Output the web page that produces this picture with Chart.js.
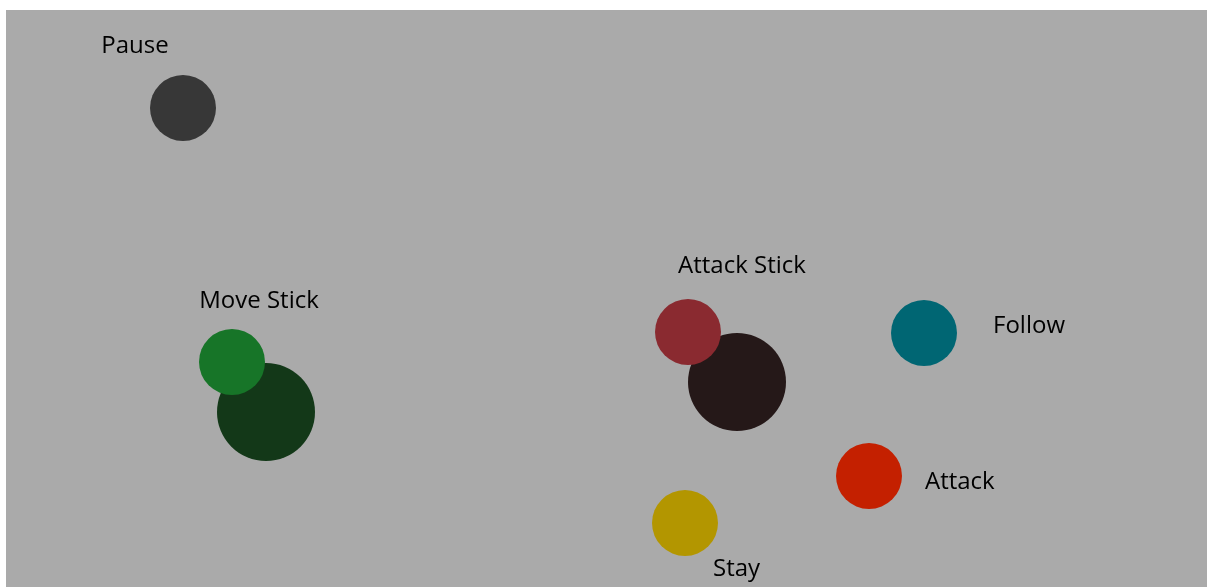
<!DOCTYPE html>
<html>
<head>
<meta charset="utf-8">
<script src="https://cdn.jsdelivr.net/npm/chart.js@4"></script>
<style>
  body { margin: 0; background: #ffffff; }
  #wrap { position: absolute; left: 6px; top: 10px; width: 1201px; height: 577px; background: #aaaaaa; }
</style>
</head>
<body>
<div id="wrap"><canvas id="myChart" width="1201" height="577"></canvas></div>
<script>
// buttons, big sticks first so the small caps sit on top
const names = ['Move Stick Base', 'Attack Stick Base', 'Pause', 'Move Stick', 'Attack Stick', 'Follow', 'Attack', 'Stay'];
const xs = [260, 731, 177, 226, 682, 918, 863, 679];
const ys = [402, 372, 98, 352, 322, 323, 466, 513];
const sizes = [49, 49, 33, 33, 33, 33, 33, 33];
const colors = ['#133818', '#251818', '#373737', '#177528', '#8a2a30', '#006673', '#c42000', '#b39600'];

// captions: text, x, y, align
const captions = [
  ['Pause', 129, 36, 'center'],
  ['Move Stick', 253, 291, 'center'],
  ['Attack Stick', 736, 256, 'center'],
  ['Follow', 987, 316, 'left'],
  ['Attack', 919, 472, 'left'],
  ['Stay', 707, 559, 'left']
];

const captionPlugin = {
  id: 'captions',
  afterDatasetsDraw(chart) {
    const c = chart.ctx;
    const sx = chart.scales.x, sy = chart.scales.y;
    c.save();
    c.fillStyle = '#000';
    c.font = '24px "Open Sans"';
    c.textBaseline = 'middle';
    captions.forEach(function (t) {
      c.textAlign = t[3];
      c.fillText(t[0], sx.getPixelForValue(t[1]), sy.getPixelForValue(t[2]));
    });
    c.restore();
  }
};

const ctx = document.getElementById('myChart').getContext('2d');
const myChart = new Chart(ctx, {
  type: 'bubble',
  data: {
    datasets: [{
      label: 'Buttons',
      data: xs.map((x, i) => ({ x: x, y: ys[i], r: sizes[i] })),
      backgroundColor: colors,
      borderWidth: 0,
      clip: false
    }]
  },
  options: {
    responsive: false,
    animation: false,
    layout: { padding: 0, autoPadding: false },
    plugins: { legend: { display: false }, tooltip: { enabled: false } },
    scales: {
      x: { type: 'linear', min: 0, max: 1201, display: false },
      y: { type: 'linear', min: 0, max: 577, reverse: true, display: false }
    }
  },
  plugins: [captionPlugin]
});
</script>
</body>
</html>
